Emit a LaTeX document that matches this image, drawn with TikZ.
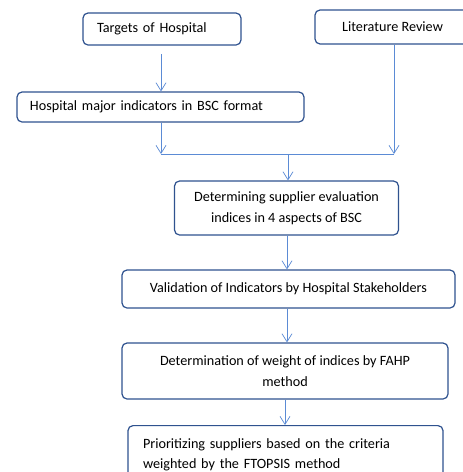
\documentclass[tikz,border=0pt]{standalone}
\usepackage{fontspec}
\setmainfont{Carlito}
\usetikzlibrary{arrows.meta}
\definecolor{boxblue}{RGB}{47,82,143}
\definecolor{arrblue}{RGB}{91,139,213}
\tikzset{
  box/.style={draw=boxblue, line width=1.2pt, rounded corners=5pt, fill=white,
    font=\fontsize{14.2}{20.5}\selectfont, inner ysep=0pt},
  arr/.style={draw=arrblue, line width=0.8pt, -{Straight Barb[length=8pt,width=10pt,line width=0.7pt]}},
  ln/.style={draw=arrblue, line width=0.8pt}
}
\begin{document}
\begin{tikzpicture}[x=1pt,y=-1pt]
\useasboundingbox (0,0) rectangle (463,472);
\clip (0,0) rectangle (463,472);
\fill[white] (0,0) rectangle (463,472);

\node[box, minimum height=32pt, inner xsep=14pt, text width=130pt, align=left] (b1) at (162,29) {Targets of Hospital};
\node[box, minimum height=34pt, minimum width=155pt, align=center] (lit) at (392.5,27) {Literature Review};
\node[box, minimum height=30pt, inner xsep=13pt, text width=261pt, align=left] (b3) at (160.5,107) {Hospital major indicators in BSC format};
\node[box, minimum height=54pt, minimum width=224pt, align=center] (b4) at (286.5,208) {Determining supplier evaluation\\indices in 4 aspects of BSC};
\node[box, minimum height=38pt, minimum width=333pt, align=center] (b5) at (288.5,289) {Validation of Indicators by Hospital Stakeholders};
\node[box, minimum height=56pt, minimum width=326pt, align=center] (b6) at (285,371) {Determination of weight of indices by FAHP\\method};
\node[box, anchor=north, minimum height=58pt, inner xsep=15pt, text width=285pt, align=left] (b7) at (285.5,425) {Prioritizing suppliers based on the criteria\\weighted by the FTOPSIS method};

\coordinate (s1) at (161,54);
\coordinate (j1) at (161,154);
\coordinate (j2) at (394,154);
\coordinate (j3) at (288,154);

\draw[arr] (s1) -- (s1 |- b3.north);
\draw[arr] (b3.south -| j1) -- (j1);
\draw[arr] (lit.south -| j2) -- (j2);
\draw[ln] (j1) -- (j2);
\draw[arr] (j3) -- (j3 |- b4.north);
\draw[arr] (b4.south -| 287,0) -- (b5.north -| 287,0);
\draw[arr] (b5.south -| 287,0) -- (b6.north -| 287,0);
\draw[arr] (b6.south -| 285,0) -- (b7.north -| 285,0);
\end{tikzpicture}
\end{document}
